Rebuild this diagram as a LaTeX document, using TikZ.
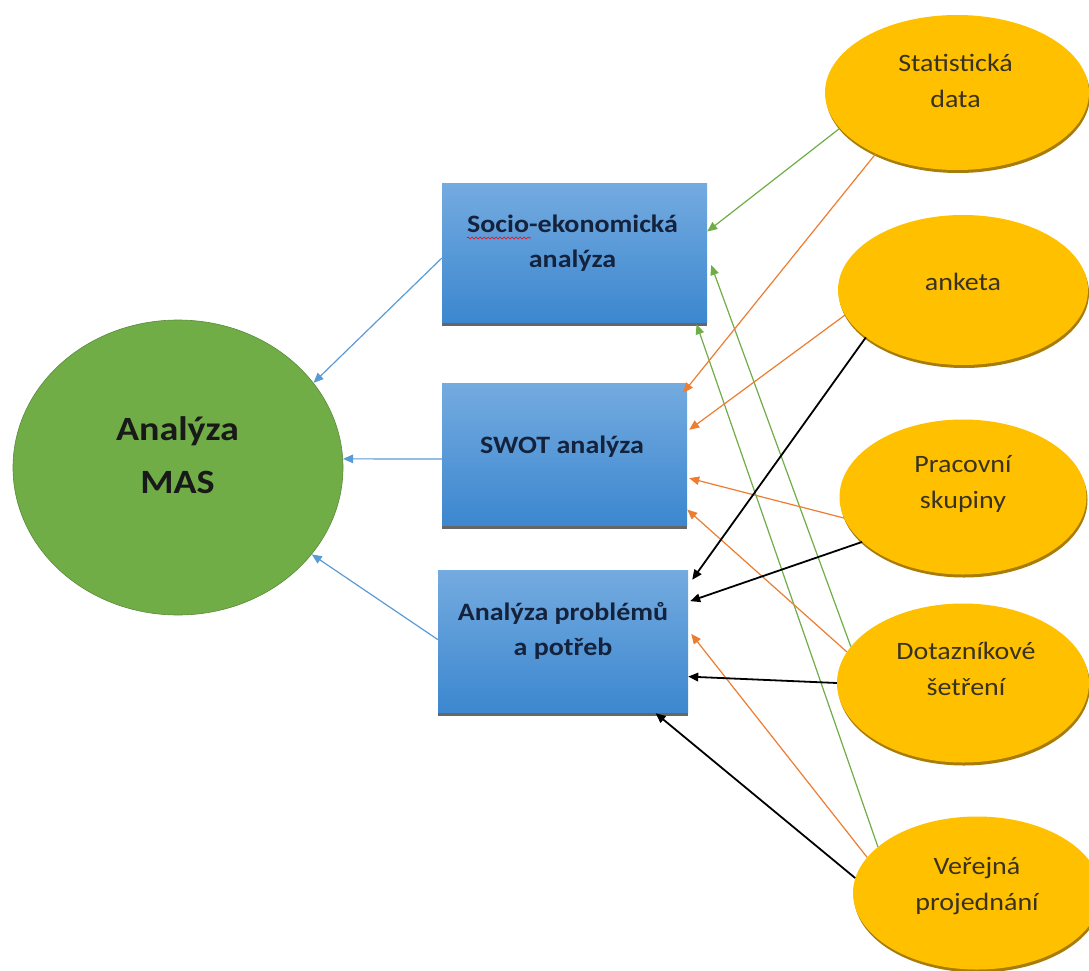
\documentclass[tikz,border=0pt]{standalone}
\usepackage{fontspec}
\setmainfont{Carlito}[FakeStretch=1.12]
\usetikzlibrary{arrows.meta,shapes.geometric,shadows,calc,decorations.pathmorphing}
\definecolor{boxtop}{HTML}{74ABE0}
\definecolor{boxbot}{HTML}{3C87CF}
\definecolor{gold}{HTML}{FFC000}
\definecolor{goldedge}{HTML}{A87C08}
\definecolor{mgreen}{HTML}{70AD47}
\definecolor{lblue}{HTML}{5B9BD5}
\definecolor{lorange}{HTML}{ED7D31}
\definecolor{lgreen}{HTML}{70AD47}
\definecolor{navy}{HTML}{15223C}
\definecolor{etext}{HTML}{3A3220}
\begin{document}
\begin{tikzpicture}[x=1pt,y=-1pt,
  boxshape/.style={rectangle, inner sep=0pt, draw=none, top color=boxtop, bottom color=boxbot,
    general shadow={fill=black!60, shadow yshift=-4pt}},
  boxtext/.style={inner sep=0pt, anchor=base, align=center, text=navy,
    font=\fontsize{25}{35}\selectfont\bfseries},
  oval/.style={ellipse, inner sep=0pt, fill=gold, draw=none,
    general shadow={fill=goldedge, shadow yshift=-3pt, shadow xshift=1pt}},
  ovaltext/.style={inner sep=0pt, anchor=base, align=center, text=etext,
    font=\fontsize{25}{36}\selectfont},
  arr/.style={-{Triangle[length=10pt,width=8.5pt]}, line width=1.2pt},
  blk/.style={arr, line width=1.8pt, draw=black}
]
\useasboundingbox[fill=white] (0,0) rectangle (1089,971);

% central circle
\node[ellipse, inner sep=0pt, minimum width=330pt, minimum height=295pt, fill=mgreen, draw=mgreen!80!black, line width=0.6pt] (c) at (178,467.5) {};
\node[inner sep=0pt, anchor=base, align=center, text=black!90, font=\fontsize{34}{53}\selectfont\bfseries] (ct) at (177.5,493) {Analýza\\MAS};

% boxes
\node[boxshape, minimum width=265pt, minimum height=139pt] (b1) at (574.5,252.5) {};
\node[boxtext] (t1) at (572.5,267) {Socio-ekonomická\\analýza};
\draw[red, line width=0.6pt, decorate, decoration={snake, amplitude=1pt, segment length=4pt}]
  ($(t1.base west)+(0,-29)$) -- ($(t1.base west)+(64,-29)$);
\node[boxshape, minimum width=245pt, minimum height=142pt] (b2) at (564.5,454) {};
\node[boxtext] (t2) at (562,453) {SWOT analýza};
\node[boxshape, minimum width=250pt, minimum height=142pt] (b3) at (563,641) {};
\node[boxtext] (t3) at (563,655) {Analýza problémů\\a potřeb};

% ellipses
\node[oval, minimum width=264pt, minimum height=155pt] (s1) at (957,92.5) {};
\node[ovaltext] (e1) at (955.5,108) {Statistická\\data};
\node[oval, minimum width=250pt, minimum height=150pt] (s2) at (963,290) {};
\node[ovaltext] (e2) at (963,290) {anketa};
\node[oval, minimum width=247pt, minimum height=155pt] (s3) at (963,497) {};
\node[ovaltext] (e3) at (963,508) {Pracovní\\skupiny};
\node[oval, minimum width=252pt, minimum height=159pt] (s4) at (963,683) {};
\node[ovaltext] (e4) at (966,695) {Dotazníkové\\šetření};
\node[oval, minimum width=248pt, minimum height=153pt] (s5) at (977,893) {};
\node[ovaltext] (e5) at (977,910) {Veřejná\\projednání};

% blue arrows to circle
\draw[arr, lblue] ($(b1.north west)!0.54!(b1.south west)$) -- (c.32);
\draw[arr, lblue] ($(b2.north west)!0.535!(b2.south west)$) -- (c.3);
\draw[arr, lblue] ($(b3.north west)!0.49!(b3.south west)$) -- (c.-33);

% green
\draw[arr, lgreen] (s1.197) -- ($(b1.north east)!0.35!(b1.south east)$);
\draw[arr, lgreen] (s4.162) -- ($(b1.north east)!0.59!(b1.south east)+(4,0)$);
\draw[arr, lgreen] (s5.155) -- ($(b1.south west)!0.96!(b1.south east)+(0,2)$);

% orange
\draw[arr, lorange] (s1.217) -- ($(b2.north east)!0.07!(b2.south east)+(-4,0)$);
\draw[arr, lorange] (s2.192) -- ($(b2.north east)!0.33!(b2.south east)+(2,0)$);
\draw[arr, lorange] (s3.190) -- ($(b2.north east)!0.67!(b2.south east)+(2,0)$);
\draw[arr, lorange] (s4.165) -- ($(b2.north east)!0.89!(b2.south east)$);
\draw[arr, lorange] (s5.162) -- ($(b3.north east)!0.45!(b3.south east)+(3,0)$);

% black
\draw[blk] (s2.206) -- ($(b3.north east)!0.07!(b3.south east)+(4,0)$);
\draw[blk] (s3.204) -- ($(b3.north east)!0.22!(b3.south east)+(2,0)$);
\draw[blk] (s4.180) -- ($(b3.north east)!0.75!(b3.south east)$);
\draw[blk] (s5.173) -- ($(b3.south west)!0.87!(b3.south east)+(0,1)$);
\end{tikzpicture}
\end{document}
